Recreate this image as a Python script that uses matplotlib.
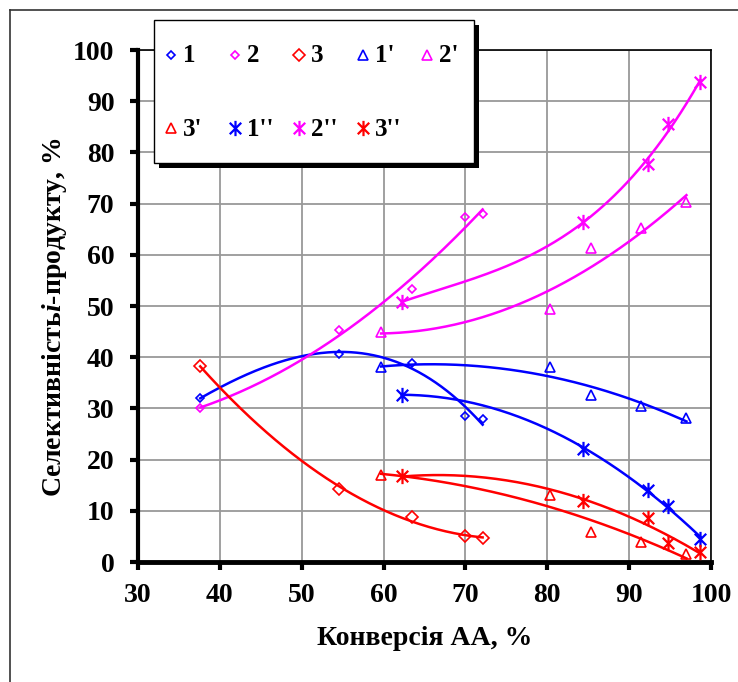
import numpy as np
import matplotlib
matplotlib.use("Agg")
import matplotlib.pyplot as plt
from matplotlib.path import Path
from matplotlib.patches import Rectangle
from matplotlib.lines import Line2D

plt.rcParams['font.family'] = ['Liberation Serif', 'DejaVu Serif']
plt.rcParams['font.weight'] = 'bold'
plt.rcParams['mathtext.fontset'] = 'custom'
plt.rcParams['mathtext.rm'] = 'Liberation Serif:bold'
plt.rcParams['mathtext.it'] = 'Liberation Serif:italic:bold'

# ---- data ----
x_a = [37.6, 54.5, 63.5, 69.9, 72.1]
y_1 = [32.0, 40.7, 38.8, 28.5, 28.0]
y_2 = [30.0, 45.3, 53.3, 67.3, 68.0]
y_3 = [38.3, 14.3, 8.7, 5.0, 4.7]

x_b = [59.7, 80.3, 85.4, 91.4, 97.0]
y_1p = [38.0, 38.0, 32.6, 30.4, 28.2]
y_2p = [45.0, 49.4, 61.3, 65.3, 70.3]
y_3p = [17.0, 13.0, 5.9, 4.0, 1.5]

x_c = [62.2, 84.4, 92.3, 94.8, 98.7]
y_1pp = [32.7, 22.0, 14.1, 10.9, 4.5]
y_2pp = [50.8, 66.5, 77.7, 85.5, 93.8]
y_3pp = [16.7, 12.0, 8.5, 3.8, 1.9]

labels = ["1", "2", "3", "1'", "2'", "3'", "1''", "2''", "3''"]

BLUE = '#0000FF'
MAG = '#FF00FF'
RED = '#FF0000'

# Excel-like star marker: vertical line + X
star = Path([(0, -1), (0, 1), (-0.75, -0.75), (0.75, 0.75), (-0.75, 0.75), (0.75, -0.75)],
            [Path.MOVETO, Path.LINETO, Path.MOVETO, Path.LINETO, Path.MOVETO, Path.LINETO])

series = [
    # x, y, color, marker, msize, trend degree, label
    (x_a, y_1, BLUE, 'D', 4, 3, labels[0]),
    (x_a, y_2, MAG, 'D', 4, 2, labels[1]),
    (x_a, y_3, RED, 'D', 6.5, 2, labels[2]),
    (x_b, y_1p, BLUE, '^', 7, 2, labels[3]),
    (x_b, y_2p, MAG, '^', 7, 2, labels[4]),
    (x_b, y_3p, RED, '^', 7, 2, labels[5]),
    (x_c, y_1pp, BLUE, star, 11, 2, labels[6]),
    (x_c, y_2pp, MAG, star, 11, 3, labels[7]),
    (x_c, y_3pp, RED, star, 11, 2, labels[8]),
]

W, H = 738, 682
fig = plt.figure(figsize=(W / 100, H / 100), dpi=100)
ax = fig.add_axes([138 / W, 1 - 562 / H, (711 - 138) / W, (562 - 50) / H])

handles = {}
for xs, ys, c, m, ms, deg, lab in series:
    xs = np.asarray(xs); ys = np.asarray(ys)
    coef = np.polyfit(xs, ys, deg)
    xf = np.linspace(xs.min(), xs.max(), 200)
    ax.plot(xf, np.polyval(coef, xf), color=c, lw=1.8, zorder=3)
    mew = 1.6 if m is star else 1.2
    ax.plot(xs, ys, linestyle='none', marker=m, markersize=ms, markerfacecolor='none',
            markeredgecolor=c, markeredgewidth=mew, zorder=4)
    handles[lab] = dict(marker=m, markersize=ms, markerfacecolor='none',
                        markeredgecolor=c, markeredgewidth=mew)

ax.set_xlim(30, 100)
ax.set_ylim(0, 100)
ax.set_xticks(np.arange(30, 101, 10))
ax.set_yticks(np.arange(0, 101, 10))
ax.grid(True, color='#999999', lw=1.3)
ax.set_axisbelow(True)
ax.tick_params(axis='both', direction='out', length=6, width=3, labelsize=20)
ax.tick_params(axis='y', pad=11)
ax.tick_params(axis='x', pad=9)
for lbl in ax.get_xticklabels() + ax.get_yticklabels():
    lbl.set_fontweight('bold')
ax.spines['left'].set_linewidth(3)
ax.spines['bottom'].set_linewidth(3.5)
ax.spines['top'].set_linewidth(1.2)
ax.spines['right'].set_linewidth(1.2)

ax.set_xlabel("Конверсія АА, %", fontsize=20, fontweight='bold', labelpad=13)
ax.set_ylabel("Селективність$\\mathit{i}$-продукту, %", fontsize=20, fontweight='bold')
ax.yaxis.set_label_coords(-(138 - 69) / (711 - 138), 0.478)

# outer border (left and top lines only visible)
fig.add_artist(Line2D([10 / W, 10 / W], [0, 1 - 10 / H], color='#333333', lw=1.2, transform=fig.transFigure))
fig.add_artist(Line2D([10 / W, 1], [1 - 10 / H, 1 - 10 / H], color='#333333', lw=1.2, transform=fig.transFigure))

# legend box with shadow
lx0, ly0, lx1, ly1 = 154, 20, 474, 163
fig.add_artist(Rectangle(((lx0 + 5) / W, 1 - (ly1 + 5) / H), (lx1 - lx0) / W, (ly1 - ly0) / H,
                         transform=fig.transFigure, facecolor='black', edgecolor='none', zorder=9))
fig.add_artist(Rectangle((lx0 / W, 1 - ly1 / H), (lx1 - lx0) / W, (ly1 - ly0) / H,
                         transform=fig.transFigure, facecolor='white', edgecolor='black', lw=1.0, zorder=10))

for i, lab in enumerate(labels):
    row, col = divmod(i, 5)
    px = 171 + 64 * col
    py = 55 + 73 * row
    fig.add_artist(Line2D([px / W], [1 - py / H], linestyle='none', transform=fig.transFigure,
                          zorder=11, **handles[lab]))
    fig.text((px + 12) / W, 1 - (py + 1) / H, lab, fontsize=18, fontweight='bold',
             ha='left', va='center', zorder=12)

fig.savefig("out.png", dpi=100)
